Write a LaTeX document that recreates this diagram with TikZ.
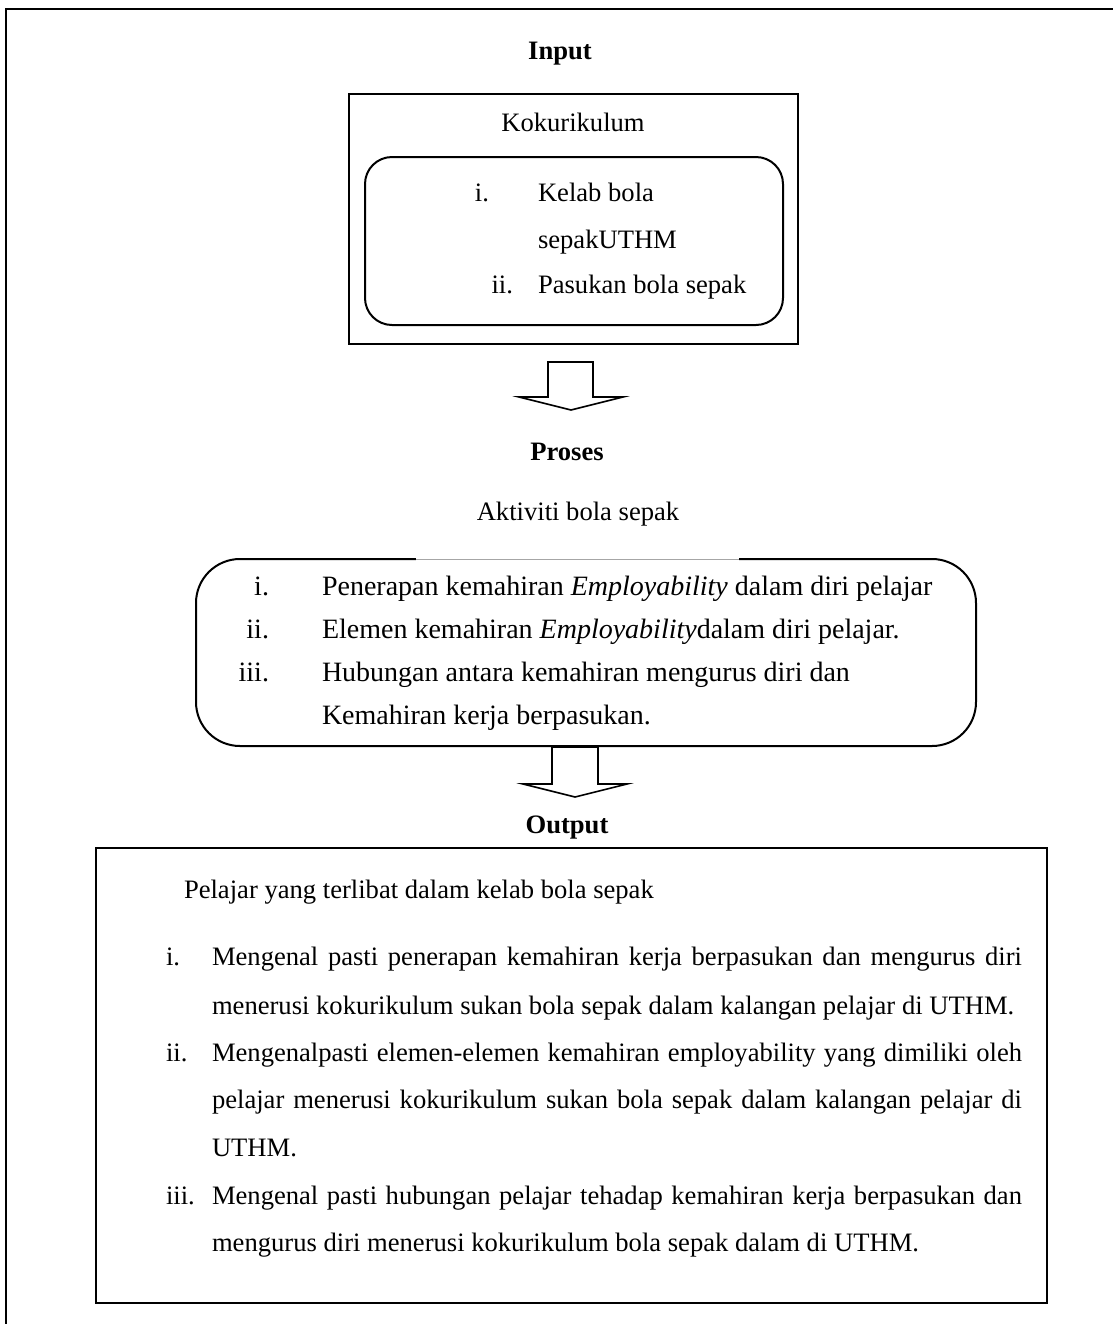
\documentclass[tikz,border=0pt]{standalone}
\usepackage{fontspec}
\setmainfont{Liberation Serif}
\newcommand\diagfs{\fontsize{13.3pt}{16pt}\selectfont}
\newcommand\procfs{\fontsize{14pt}{17pt}\selectfont}
\begin{document}
\begin{tikzpicture}[x=0.5pt,y=-0.5pt,
  every node/.style={inner sep=0pt, outer sep=0pt, font=\diagfs},
  lbl/.style={anchor=base west},
  num/.style={anchor=base east},
  numl/.style={anchor=base west},
  plbl/.style={anchor=base west, font=\procfs},
  pnum/.style={anchor=base east, font=\procfs},
  ctr/.style={anchor=base},
  heading/.style={anchor=base, font=\diagfs\bfseries},
  frame/.style={draw, line width=1pt},
  blockarrow/.style={draw, line width=0.8pt, fill=white, line join=miter},
  jline/.style={anchor=base west}]
\useasboundingbox (0,0) rectangle (1113,1324);
% outer frame (only top and left visible)
\draw[frame] (6,1324) -- (6,9) -- (1113,9);

% Input
\node[heading] (input) at (560,59) {Input};
\node[frame, minimum width=224.5pt, minimum height=125pt] (inbox) at (573.5,219) {};
\node[ctr] (koku) at (573,131) {Kokurikulum};
\node[frame, rounded corners=13.5pt, minimum width=209pt, minimum height=84pt] (inlist) at (574,241) {};
\node[num] (in1n) at (489,201) {i.};
\node[lbl] (in1a) at (538,201) {Kelab bola};
\node[lbl] (in1b) at (538,248) {sepakUTHM};
\node[num] (in2n) at (513,293) {ii.};
\node[lbl] (in2a) at (538,293) {Pasukan bola sepak};

% arrow 1
\draw[blockarrow] (548,362) -- (593,362) -- (593,397) -- (623,397) -- (571,410) -- (519,397) -- (548,397) -- cycle;

% Proses
\node[heading] (proses) at (567,460) {Proses};
\node[ctr] (aktiviti) at (578,520) {Aktiviti bola sepak};
\node[frame, rounded corners=22pt, minimum width=390pt, minimum height=93.5pt] (procbox) at (586,652.5) {};
\draw[white, line width=1.6pt] (416,559) -- (739,559);
\draw[gray!70, line width=0.4pt] (416,559) -- (739,559);
\node[pnum] (p1n) at (269,595) {i.};
\node[plbl] (p1) at (322,595) {Penerapan kemahiran \textit{Employability} dalam diri pelajar};
\node[pnum] (p2n) at (269,638) {ii.};
\node[plbl] (p2) at (322,638) {Elemen kemahiran \textit{Employability}dalam diri pelajar.};
\node[pnum] (p3n) at (269,681) {iii.};
\node[plbl] (p3a) at (322,681) {Hubungan antara kemahiran mengurus diri dan};
\node[plbl] (p3b) at (322,724) {Kemahiran kerja berpasukan.};

% arrow 2
\draw[blockarrow] (552,747) -- (598,747) -- (598,784) -- (627,784) -- (575,797) -- (523,784) -- (552,784) -- cycle;

% Output
\node[heading] (output) at (567,833) {Output};
\node[frame, minimum width=475.5pt, minimum height=227.5pt] (outbox) at (571.5,1075.5) {};
\node[lbl] (pelajar) at (184,898) {Pelajar yang terlibat dalam kelab bola sepak};
\node[numl] (o1n) at (166,965) {i.};
\node[jline] (o1a) at (212,965) {\makebox[405pt][s]{Mengenal pasti penerapan kemahiran kerja berpasukan dan mengurus diri}};
\node[jline] (o1b) at (212,1014) {menerusi kokurikulum sukan bola sepak dalam kalangan pelajar di UTHM.};
\node[numl] (o2n) at (166,1061) {ii.};
\node[jline] (o2a) at (212,1061) {\makebox[405pt][s]{Mengenalpasti elemen-elemen kemahiran employability yang dimiliki oleh}};
\node[jline] (o2b) at (212,1108) {\makebox[405pt][s]{pelajar menerusi kokurikulum sukan bola sepak dalam kalangan pelajar di}};
\node[jline] (o2c) at (212,1156) {UTHM.};
\node[numl] (o3n) at (166,1204) {iii.};
\node[jline] (o3a) at (212,1204) {\makebox[405pt][s]{Mengenal pasti hubungan pelajar tehadap kemahiran kerja berpasukan dan}};
\node[jline] (o3b) at (212,1251) {mengurus diri menerusi kokurikulum bola sepak dalam di UTHM.};
\end{tikzpicture}
\end{document}
